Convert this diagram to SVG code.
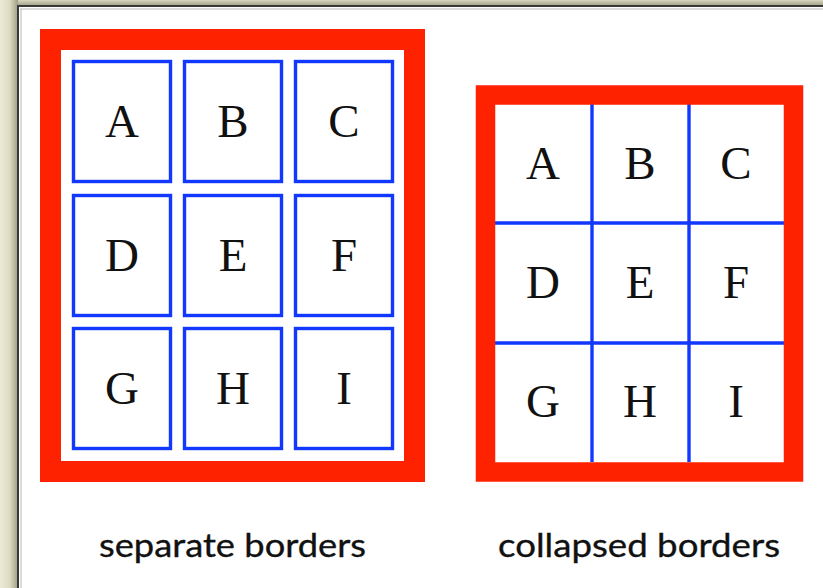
<svg xmlns="http://www.w3.org/2000/svg" width="823" height="588" viewBox="0 0 823 588">
  <defs>
    <linearGradient id="shL" x1="0" y1="0" x2="1" y2="0">
      <stop offset="0" stop-color="#ecebd6"/>
      <stop offset="0.55" stop-color="#dddbc0"/>
      <stop offset="1" stop-color="#9e9c84"/>
    </linearGradient>
    <linearGradient id="shT" x1="0" y1="0" x2="0" y2="1">
      <stop offset="0" stop-color="#d8d6bc"/>
      <stop offset="1" stop-color="#a09e86"/>
    </linearGradient>
  </defs>
  <style>
    .red { fill: none; stroke: #ff2200; }
    .cell { fill: none; stroke: #1238ff; stroke-width: 3.4; }
    .grid { stroke: #1238ff; stroke-width: 3.4; }
    .lbl { font-family: "Liberation Serif", "Times New Roman", serif; font-size: 47px; fill: #111; text-anchor: middle; }
    .cap { font-family: "Lato", "Liberation Sans", sans-serif; font-size: 33px; fill: #111; stroke: #111; stroke-width: 0.35; }
  </style>

  <!-- window frame -->
  <rect x="0" y="0" width="823" height="588" fill="#e6e4c9"/>
  <rect x="0" y="0" width="18" height="588" fill="url(#shL)"/>
  <rect x="18" y="0" width="805" height="6" fill="url(#shT)"/>
  <rect x="18" y="6" width="806" height="584" fill="#ffffff" stroke="#3a3a3a" stroke-width="2"/>
  <line x1="20" y1="9" x2="823" y2="9" stroke="#b8b8b8" stroke-width="1"/>
  <line x1="21" y1="9" x2="21" y2="588" stroke="#b8b8b8" stroke-width="1"/>

  <!-- separate borders table -->
  <g id="table-separate">
    <rect class="red" x="50.5" y="39.5" width="364" height="432" stroke-width="21"/>
    <g id="cell-A"><rect class="cell" x="73.5" y="61.5" width="97" height="120"/><text class="lbl" x="122" y="137">A</text></g>
    <g id="cell-B"><rect class="cell" x="184.5" y="61.5" width="97" height="120"/><text class="lbl" x="233" y="137">B</text></g>
    <g id="cell-C"><rect class="cell" x="295.5" y="61.5" width="97" height="120"/><text class="lbl" x="344" y="137">C</text></g>
    <g id="cell-D"><rect class="cell" x="73.5" y="195.5" width="97" height="120"/><text class="lbl" x="122" y="271">D</text></g>
    <g id="cell-E"><rect class="cell" x="184.5" y="195.5" width="97" height="120"/><text class="lbl" x="233" y="271">E</text></g>
    <g id="cell-F"><rect class="cell" x="295.5" y="195.5" width="97" height="120"/><text class="lbl" x="344" y="271">F</text></g>
    <g id="cell-G"><rect class="cell" x="73.5" y="328.5" width="97" height="120"/><text class="lbl" x="122" y="404">G</text></g>
    <g id="cell-H"><rect class="cell" x="184.5" y="328.5" width="97" height="120"/><text class="lbl" x="233" y="404">H</text></g>
    <g id="cell-I"><rect class="cell" x="295.5" y="328.5" width="97" height="120"/><text class="lbl" x="344" y="404">I</text></g>
  </g>

  <!-- collapsed borders table -->
  <g id="table-collapsed">
    <g id="grid-lines">
      <line class="grid" x1="592" y1="104" x2="592" y2="462"/>
      <line class="grid" x1="689" y1="104" x2="689" y2="462"/>
      <line class="grid" x1="494" y1="223" x2="784" y2="223"/>
      <line class="grid" x1="494" y1="343" x2="784" y2="343"/>
    </g>
    <rect class="red" x="485.5" y="95" width="308" height="377" stroke-width="19.5"/>
    <g id="ccell-A"><text class="lbl" x="543" y="179">A</text></g>
    <g id="ccell-B"><text class="lbl" x="640" y="179">B</text></g>
    <g id="ccell-C"><text class="lbl" x="736" y="179">C</text></g>
    <g id="ccell-D"><text class="lbl" x="543" y="298">D</text></g>
    <g id="ccell-E"><text class="lbl" x="640" y="298">E</text></g>
    <g id="ccell-F"><text class="lbl" x="736" y="298">F</text></g>
    <g id="ccell-G"><text class="lbl" x="543" y="417">G</text></g>
    <g id="ccell-H"><text class="lbl" x="640" y="417">H</text></g>
    <g id="ccell-I"><text class="lbl" x="736" y="417">I</text></g>
  </g>

  <text class="cap" x="99" y="557" textLength="267" lengthAdjust="spacingAndGlyphs">separate borders</text>
  <text class="cap" x="498" y="557" textLength="282" lengthAdjust="spacingAndGlyphs">collapsed borders</text>
</svg>
